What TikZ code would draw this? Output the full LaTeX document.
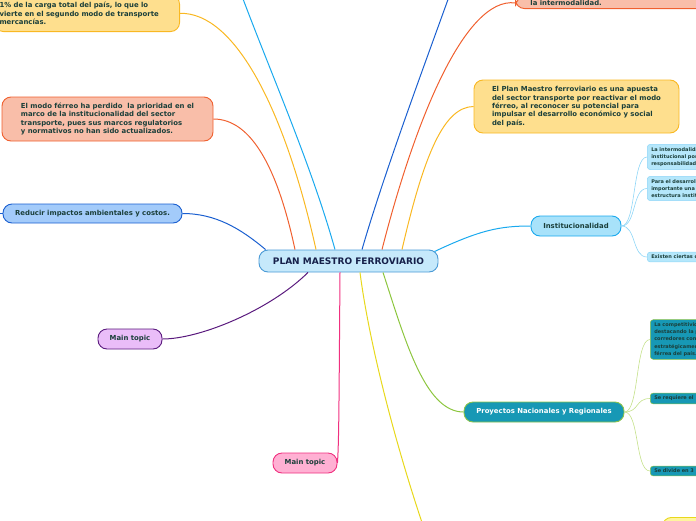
\documentclass[tikz,border=0pt]{standalone}
\usepackage{fontspec}
\setmainfont{DejaVu Sans}
\usetikzlibrary{positioning}
\definecolor{txt}{HTML}{1B3F3A}
\definecolor{cenText}{HTML}{16204A}
\definecolor{cenFill}{HTML}{C6E9FB}
\definecolor{cenLine}{HTML}{4A9AD6}
\definecolor{yelFill}{HTML}{FEDF8E}
\definecolor{yelLine}{HTML}{F9B823}
\definecolor{salFill}{HTML}{F9BEA9}
\definecolor{salLine}{HTML}{F0602F}
\definecolor{bluFill}{HTML}{A3CBFA}
\definecolor{bluLine}{HTML}{1A5FD0}
\definecolor{purFill}{HTML}{EABDF8}
\definecolor{purLine}{HTML}{5A1A7E}
\definecolor{pnkFill}{HTML}{FFB0D3}
\definecolor{pnkLine}{HTML}{F0307F}
\definecolor{cyaFill}{HTML}{A8E2FA}
\definecolor{cyaLine}{HTML}{1AA9EE}
\definecolor{cyaSub}{HTML}{8FD6F7}
\definecolor{cyaSubFill}{HTML}{B5E7FB}
\definecolor{teaFill}{HTML}{1798B5}
\definecolor{teaLine}{HTML}{8BC34A}
\definecolor{grnLine}{HTML}{8DC63F}
\definecolor{grnSub}{HTML}{C5E18A}
\definecolor{lemLine}{HTML}{E8D81C}
\definecolor{lemFill}{HTML}{FFF59D}
\tikzset{
  topic/.style ={rectangle, rounded corners=9pt, draw, line width=0.9pt, align=left, text=txt, font=\bfseries\fontsize{6.9}{8.4}\selectfont},
  subt/.style  ={rectangle, rounded corners=3pt, draw, line width=0.5pt, align=left, text=txt, font=\bfseries\fontsize{5}{7.2}\selectfont, inner xsep=4pt, inner ysep=3pt, anchor=west, text width=60pt},
  lnk/.style   ={line width=1pt},
  sublnk/.style={line width=0.6pt},
}
\begin{document}
\begin{tikzpicture}[x=1pt, y=-1pt]
  \useasboundingbox (0,0) rectangle (696,520);
  \clip (0,0) rectangle (696,520);
  \node[topic, fill=cenFill, draw=cenLine, minimum width=179pt, minimum height=22pt, text=cenText, font=\bfseries\fontsize{9}{10}\selectfont] (mid) at (348.5,261) {PLAN MAESTRO FERROVIARIO};
  \node[topic, fill=yelFill, draw=yelLine, anchor=south east, text width=175pt, inner xsep=5pt, inner ysep=7pt] (y1) at (180,32) {1\% de la carga total del país, lo que lo\\vierte en el segundo modo de transporte\\mercancías.};
  \node[topic, fill=salFill, draw=salLine, minimum width=211pt, minimum height=44pt] (s1) at (107.5,119) {El modo férreo ha perdido \ la prioridad en el\\marco de la institucionalidad del sector\\transporte, pues sus marcos regulatorios\\y normativos no han sido actualizados.};
  \node[topic, fill=bluFill, draw=bluLine, minimum width=179pt, minimum height=19pt, align=center] (red) at (92.5,213.5) {Reducir impactos ambientales y costos.};
  \node[topic, fill=purFill, draw=purLine, minimum width=64pt, minimum height=20pt, align=center] (pur) at (130,339) {Main topic};
  \node[topic, fill=pnkFill, draw=pnkLine, minimum width=64pt, minimum height=20pt, align=center] (pnk) at (305,463) {Main topic};
  \node[topic, fill=salFill, draw=salLine, anchor=south west, text width=200pt, inner xsep=15pt, inner ysep=3pt] (s2) at (515,9) {la intermodalidad.};
  \node[topic, fill=yelFill, draw=yelLine, minimum width=205pt, minimum height=53pt] (y2) at (576.5,106.5) {El Plan Maestro ferroviario es una apuesta\\del sector transporte por reactivar el modo\\férreo, al reconocer su potencial para\\impulsar el desarrollo económico y social\\del país.};
  \node[topic, fill=cyaFill, draw=cyaLine, minimum width=90pt, minimum height=20pt, align=center] (inst) at (576,226) {Institucionalidad};
  \node[topic, fill=teaFill, draw=teaLine, minimum width=160pt, minimum height=20pt, align=center, text=white] (proj) at (544,412) {Proyectos Nacionales y Regionales};
  \node[subt, fill=cyaSubFill, draw=cyaSub] (i1) at (647,157) {La intermodalida\\institucional por\\responsabilidade};
  \node[subt, fill=cyaSubFill, draw=cyaSub] (i2) at (647,188.5) {Para el desarrolli\\importante una\\estructura instit};
  \node[subt, fill=cyaSubFill, draw=cyaSub] (i3) at (647,257) {Existen ciertas c};
  \node[subt, fill=teaFill, draw=teaLine] (p1) at (650,339.5) {La competitivid\\destacando la p\\corredores con\\estratégicamen\\férrea del país.};
  \node[subt, fill=teaFill, draw=teaLine] (p2) at (650,398.5) {Se requiere el};
  \node[subt, fill=teaFill, draw=teaLine] (p3) at (650,471) {Se divide en 3};
  \node[topic, fill=lemFill, draw=lemLine, anchor=north west, minimum width=60pt, minimum height=15pt] (y3) at (662,517) {};
  \coordinate (offA) at (236,-20);
  \coordinate (offB) at (455,-20);
  \coordinate (offC) at (-10,213.5);
  \coordinate (offD) at (428,540);
  \draw[lnk, salLine] ([xshift=-53.5pt]mid.north) .. controls (278,170) and (252,119) .. (s1.east);
  \draw[lnk, yelLine] ([xshift=-32.5pt]mid.north) .. controls (285,110) and (235,12) .. (y1.east);
  \draw[lnk, cyaLine] ([xshift=-13.5pt]mid.north) .. controls (310,160) and (265,60) .. (offA);
  \draw[lnk, bluLine] ([xshift=13.5pt]mid.north) .. controls (385,170) and (430,50) .. (offB);
  \draw[lnk, salLine] ([xshift=33.5pt]mid.north) .. controls (415,120) and (465,-3) .. (s2.west);
  \draw[lnk, yelLine] ([xshift=53.5pt]mid.north) .. controls (425,150) and (445,107) .. (y2.west);
  \draw[lnk, cyaLine] ([xshift=-4pt,yshift=-2pt]mid.north east) .. controls (480,230) and (500,226) .. (inst.west);
  \draw[lnk, bluLine] ([xshift=7pt]mid.north west) .. controls (240,228) and (215,213.5) .. (red.east);
  \draw[lnk, bluLine] (red.west) -- (offC);
  \draw[lnk, purLine] ([xshift=-40.5pt]mid.south) .. controls (270,310) and (200,339) .. (pur.east);
  \draw[lnk, pnkLine] ([xshift=-8.5pt]mid.south) .. controls (339,400) and (339,440) .. (pnk.east);
  \draw[lnk, lemLine] ([xshift=11.5pt]mid.south) .. controls (370,350) and (400,460) .. (offD);
  \draw[lnk, grnLine] ([xshift=34.5pt]mid.south) .. controls (405,340) and (425,412) .. (proj.west);
  \foreach \n in {i1,i2,i3}
    \draw[sublnk, cyaSub] (inst.east) .. controls +(15,0) and +(-15,0) .. (\n.west);
  \foreach \n in {p1,p2,p3}
    \draw[sublnk, grnSub] (proj.east) .. controls +(15,0) and +(-15,0) .. (\n.west);
\end{tikzpicture}
\end{document}
